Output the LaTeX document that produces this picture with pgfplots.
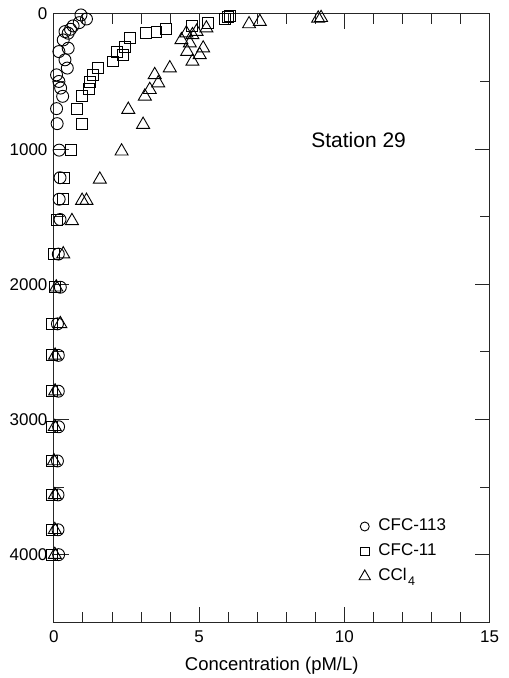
\documentclass[border=0pt]{standalone}
\usepackage{pgfplots}
\pgfplotsset{compat=1.18}
\usepackage{fontspec}
\setmainfont{Liberation Sans}
\begin{document}
\begin{tikzpicture}
\begin{axis}[
  name=ax,
  scale only axis,
  width=436pt, height=609pt,
  xmin=0, xmax=15, ymin=0, ymax=4500,
  y dir=reverse,
  clip=false,
  xtick={0,5,10,15},
  ytick={0,1000,2000,3000,4000},
  minor x tick num=4,
  minor y tick num=1,
  tick align=inside,
  major tick length=15pt,
  minor tick length=10pt,
  axis line style={line width=1pt, black!85},
  every tick/.style={line width=1pt, black!85},
  /pgf/number format/assume math mode=true,
  /pgf/number format/1000 sep={},
  tick label style={font=\fontsize{17}{20}\selectfont},
  xticklabel style={yshift=-5pt},
  yticklabel style={xshift=-3pt},
  xlabel={Concentration (pM/L)},
  xlabel style={font=\fontsize{18.5}{22}\selectfont, at={(axis description cs:0.5,0)}, anchor=base, yshift=-48.5pt},
  legend style={draw=none, fill=none, at={(axis cs:10.4,3708)}, anchor=north west,
    font=\fontsize{17}{20}\selectfont, row sep=7pt, column sep=6pt,
    nodes={text height=11pt, text depth=3pt, inner sep=2pt}},
  legend cell align=left,
]
\addplot[only marks, mark=o, mark size=6pt, line width=0.9pt, legend image post style={mark size=4.5pt}] coordinates {
(0.93,7)(1.12,37)(0.87,64)(0.66,88)(0.57,113)(0.38,130)(0.49,142)(0.32,192)(0.49,253)(0.17,278)
(0.38,339)(0.46,400)(0.09,450)(0.17,499)(0.23,548)(0.30,609)(0.09,700)(0.11,811)(0.18,1007)(0.21,1211)
(0.18,1370)(0.21,1520)(0.15,1776)(0.22,2021)(0.12,2292)(0.15,2525)(0.15,2790)(0.16,3053)(0.12,3306)(0.14,3557)(0.14,3815)(0.16,3999)
};
\addlegendentry{CFC-113}
\addplot[only marks, mark=square, mark size=5.5pt, line width=0.9pt, legend image post style={mark size=4.2pt}] coordinates {
(6.0,20)(6.05,15)(5.88,39)(5.31,69)(4.74,88)(3.85,113)(3.53,130)(3.16,142)(2.61,179)(2.44,241)
(2.16,278)(2.38,302)(2.02,351)(1.52,400)(1.35,450)(1.24,499)(1.21,555)(0.95,609)(0.78,702)(0.95,811)
(0.58,1007)(0.34,1211)(0.30,1370)(0.11,1520)(0.0,1776)(0.02,2021)(-0.07,2292)(-0.07,2525)(-0.07,2790)
(-0.08,3053)(-0.08,3306)(-0.08,3557)(-0.08,3815)(-0.08,3999)
};
\addlegendentry{CFC-11}
\addplot[only marks, mark=triangle, mark size=7.5pt, line width=0.9pt, legend image post style={mark size=6.5pt}] coordinates {
(9.1,32)(9.2,28)(7.09,57)(6.72,74)(5.25,105)(4.91,130)(4.56,142)(4.77,155)(4.39,192)(4.68,216)
(5.14,253)(4.59,278)(5.02,302)(4.77,351)(3.99,400)(3.47,450)(3.59,511)(3.30,560)(3.13,609)(2.56,707)
(3.07,818)(2.33,1015)(1.58,1223)(0.97,1380)(1.12,1380)(0.62,1530)(0.32,1776)(0.08,2021)(0.22,2292)
(0.04,2525)(0.04,2790)(0.03,3053)(0.0,3306)(0.03,3557)(0.03,3815)(0.03,3999)
};
\addlegendentry{CCl\kern1.5pt\raisebox{-5.5pt}{\fontsize{12.5}{13}\selectfont 4}}
\node[anchor=base west, inner sep=0pt, font=\fontsize{21}{25}\selectfont] at (axis cs:8.86,990) {Station 29};
\end{axis}
\path (ax.south west) ++(-54pt,-55pt) (ax.north east) ++(19pt,14pt);
\end{tikzpicture}
\end{document}
